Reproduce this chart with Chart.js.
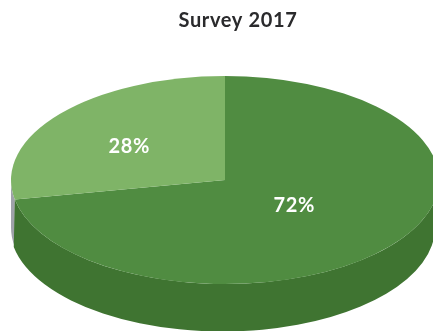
<!DOCTYPE html>
<html>
<head>
<meta charset="utf-8">
<title>Survey 2017</title>
<script src="https://cdn.jsdelivr.net/npm/chart.js@4/dist/chart.umd.min.js"></script>
<style>
  html, body { margin: 0; padding: 0; background: #fff; overflow: hidden; }
  canvas { display: block; }
</style>
</head>
<body>
<canvas id="chart" width="433" height="331"></canvas>
<script>
const chartTitle = 'Survey 2017';
const categories = ['Yes', 'No'];
const shares = [72, 28];
const topColors = ['#508c41', '#7fb467'];
const wallColors = ['#3f7431', '#9fa2aa'];

// the pie is round for Chart.js, this stretches it sideways into the tilted disc
const pieCenterX = 225;
const stretchX = 214 / 104;
const wallDepth = 47.5;
// bottom rim of the big slice is a little narrower and further left than the top one
const rimShrink = [212.5 / 214, 1];
const rimShift = [-2.5, 0];
const labelReach = [[0.42, 0.38], [0.58, 0.51]];

const tiltedPie = {
    id: 'tiltedPie',
    beforeDraw(chart) {
        chart.ctx.letterSpacing = '0.65px';
    },
    beforeDatasetsDraw(chart) {
        const ctx = chart.ctx;
        const arcs = chart.getDatasetMeta(0).data;
        ctx.save();
        ctx.translate(pieCenterX, 0);
        ctx.scale(stretchX, 1);
        ctx.translate(-arcs[0].x, 0);

        // side wall, only the part facing the viewer; big slice goes on top
        for (let i = arcs.length - 1; i >= 0; i--) {
            const arc = arcs[i];
            const from = Math.max(arc.startAngle, 0);
            const to = Math.min(arc.endAngle, Math.PI);
            if (to <= from) continue;
            ctx.beginPath();
            ctx.arc(arc.x, arc.y, arc.outerRadius, from, to);
            ctx.ellipse(arc.x + rimShift[i] / stretchX, arc.y + wallDepth, arc.outerRadius * rimShrink[i], arc.outerRadius, 0, to, from, true);
            ctx.closePath();
            ctx.fillStyle = wallColors[i];
            ctx.fill();
        }
    },
    afterDatasetsDraw(chart) {
        const ctx = chart.ctx;
        ctx.restore();

        ctx.save();
        ctx.fillStyle = '#ffffff';
        ctx.font = 'bold 20px Lato';
        ctx.letterSpacing = '0.7px';
        ctx.textAlign = 'center';
        ctx.textBaseline = 'middle';
        chart.getDatasetMeta(0).data.forEach((arc, i) => {
            const mid = (arc.startAngle + arc.endAngle) / 2;
            const x = pieCenterX + Math.cos(mid) * arc.outerRadius * stretchX * labelReach[i][0];
            const y = arc.y + Math.sin(mid) * arc.outerRadius * labelReach[i][1];
            ctx.fillText(shares[i] + '%', x, y);
        });
        ctx.restore();
    }
};

new Chart(document.getElementById('chart'), {
    type: 'pie',
    data: {
        labels: categories,
        datasets: [{
            data: shares,
            backgroundColor: topColors,
            borderWidth: 0,
            clip: false
        }]
    },
    options: {
        responsive: false,
        animation: false,
        layout: { padding: { left: 43, right: 0, top: 0, bottom: 47 } },
        plugins: {
            legend: { display: false },
            tooltip: { enabled: false },
            title: {
                display: true,
                text: chartTitle,
                color: '#2a2a2c',
                font: { family: 'Lato', size: 20, weight: 'bold' },
                padding: { top: 9, bottom: 43 }
            }
        }
    },
    plugins: [tiltedPie]
});
</script>
</body>
</html>
